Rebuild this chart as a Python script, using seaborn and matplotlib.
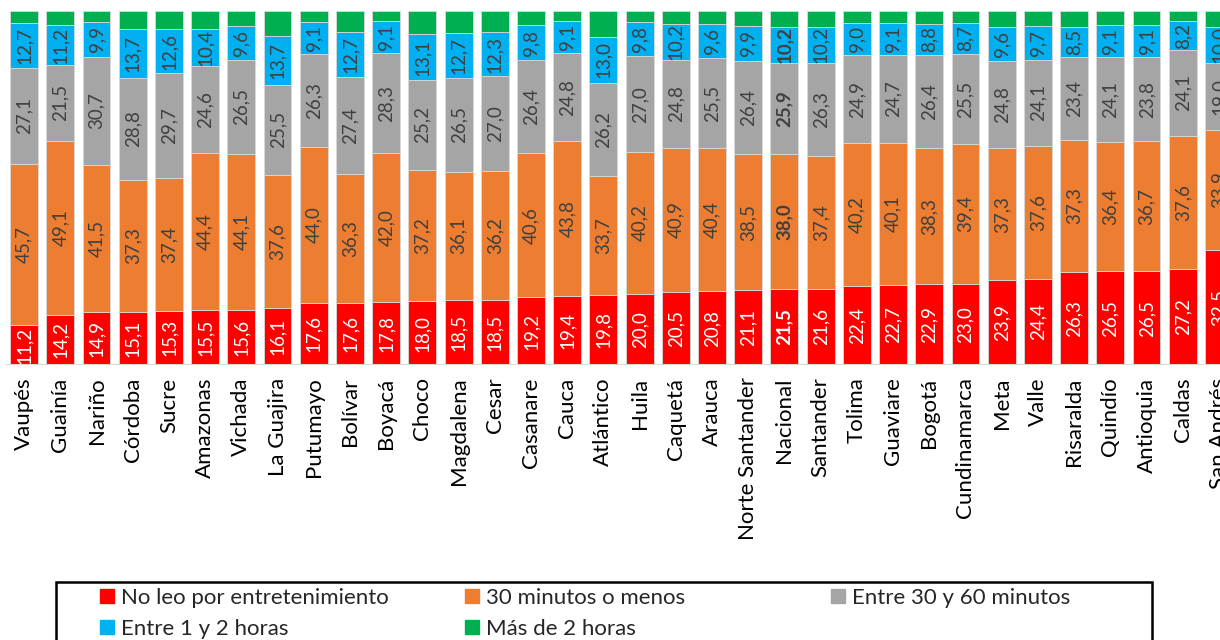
import matplotlib
matplotlib.use('Agg')
import matplotlib.pyplot as plt
import seaborn as sns
import numpy as np
from matplotlib.lines import Line2D
from matplotlib.patches import Rectangle

regiones = ['Vaupés', 'Guainía', 'Nariño', 'Córdoba', 'Sucre', 'Amazonas', 'Vichada',
            'La Guajira', 'Putumayo', 'Bolívar', 'Boyacá', 'Choco', 'Magdalena', 'Cesar',
            'Casanare', 'Cauca', 'Atlántico', 'Huila', 'Caquetá', 'Arauca',
            'Norte Santander', 'Nacional', 'Santander', 'Tolima', 'Guaviare', 'Bogotá',
            'Cundinamarca', 'Meta', 'Valle', 'Risaralda', 'Quindío', 'Antioquia',
            'Caldas', 'San Andrés']

no_leo = [11.2, 14.2, 14.9, 15.1, 15.3, 15.5, 15.6, 16.1, 17.6, 17.6, 17.8, 18.0, 18.5, 18.5,
          19.2, 19.4, 19.8, 20.0, 20.5, 20.8, 21.1, 21.5, 21.6, 22.4, 22.7, 22.9, 23.0, 23.9,
          24.4, 26.3, 26.5, 26.5, 27.2, 32.5]
menos_30 = [45.7, 49.1, 41.5, 37.3, 37.4, 44.4, 44.1, 37.6, 44.0, 36.3, 42.0, 37.2, 36.1, 36.2,
            40.6, 43.8, 33.7, 40.2, 40.9, 40.4, 38.5, 38.0, 37.4, 40.2, 40.1, 38.3, 39.4, 37.3,
            37.6, 37.3, 36.4, 36.7, 37.6, 33.9]
entre_30_60 = [27.1, 21.5, 30.7, 28.8, 29.7, 24.6, 26.5, 25.5, 26.3, 27.4, 28.3, 25.2, 26.5, 27.0,
               26.4, 24.8, 26.2, 27.0, 24.8, 25.5, 26.4, 25.9, 26.3, 24.9, 24.7, 26.4, 25.5, 24.8,
               24.1, 23.4, 24.1, 23.8, 24.1, 19.0]
entre_1_2 = [12.7, 11.2, 9.9, 13.7, 12.6, 10.4, 9.6, 13.7, 9.1, 12.7, 9.1, 13.1, 12.7, 12.3,
             9.8, 9.1, 13.0, 9.8, 10.2, 9.6, 9.9, 10.2, 10.2, 9.0, 9.1, 8.8, 8.7, 9.6,
             9.7, 8.5, 9.1, 9.1, 8.2, 10.0]
mas_2 = [3.3, 4.0, 3.0, 5.1, 5.0, 5.1, 4.2, 7.1, 3.0, 6.0, 2.8, 6.5, 6.2, 6.0,
         4.0, 2.9, 7.3, 3.0, 3.6, 3.7, 4.1, 4.4, 4.5, 3.5, 3.4, 3.6, 3.4, 4.4,
         4.2, 4.5, 3.9, 3.9, 2.9, 4.6]

series = ['No leo por entretenimiento', '30 minutos o menos', 'Entre 30 y 60 minutos',
          'Entre 1 y 2 horas', 'Más de 2 horas']
colores = ['#FF0000', '#ED7D31', '#A5A5A5', '#00B0F0', '#00B050']

sns.set_theme(style='white')
plt.rcParams['font.family'] = ['Lato', 'DejaVu Sans']

W, H = 1220, 640
fig = plt.figure(figsize=(12.2, 6.4), dpi=100)
ax = fig.add_axes([6 / W, (H - 365) / H, 1231 / W, 354 / H])

valores = [no_leo, menos_30, entre_30_60, entre_1_2, mas_2]
base = np.zeros(len(regiones))
for k, vals in enumerate(valores):
    sns.barplot(x=regiones, y=vals, order=regiones, bottom=base, color=colores[k],
                width=0.77, errorbar=None, saturation=1, ax=ax,
                edgecolor='#d9d9d9', linewidth=0.6)
    cont = ax.containers[-1]
    if k < 4:
        txtcol = 'white' if k == 0 else '#404040'
        labs = ax.bar_label(cont, labels=[f'{v:.1f}'.replace('.', ',') for v in vals],
                            label_type='center', rotation=90, fontsize=13.5, color=txtcol)
        labs[regiones.index('Nacional')].set_fontweight('bold')
    base = base + np.array(vals)

ax.set_xlim(-0.5, len(regiones) - 0.5)
ax.set_ylim(0, 100)
for s in ax.spines.values():
    s.set_visible(False)
ax.axhline(0, color='#d9d9d9', lw=1.5, zorder=5)
ax.set_yticks([])
ax.set_xlabel('')
ax.tick_params(axis='x', length=0, pad=9, labelsize=16, labelcolor='black')
plt.setp(ax.get_xticklabels(), rotation=90)

# marco de la leyenda, cortado abajo como en el original
fig.patches.append(Rectangle((56 / W, -20 / H), (1152 - 56) / W, (H - 582 + 20) / H,
                             transform=fig.transFigure, fill=False, edgecolor='black', lw=1.8))

handles = [Line2D([], [], marker='s', color=c, linestyle='', markersize=9.5) for c in colores]
columnas = [([0, 3], 99), ([1, 4], 464), ([2], 830)]
for idx, xpx in columnas:
    fig.legend([handles[i] for i in idx], [series[i] for i in idx],
               loc='upper left', bbox_to_anchor=(xpx / W, (H - 588) / H),
               frameon=False, fontsize=16, handlelength=0.7, handletextpad=0.3,
               labelspacing=0.5, borderpad=0, borderaxespad=0)

fig.savefig('out.png', dpi=100)
